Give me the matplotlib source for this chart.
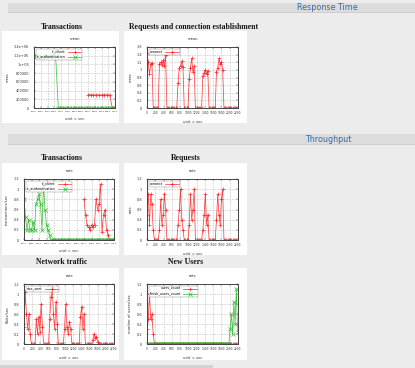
import numpy as np
import matplotlib.pyplot as plt
from matplotlib.patches import Rectangle

W, H = 415, 368

# --- Data (read off the thumbnails) ---
# response time, transactions (20 s samples)
t_rt = np.arange(1500, 2101, 20)
rt_auth = [1.19e6, 1.2e6, 1.19e6, 1.18e6, 1.2e6, 1.19e6, 1.2e6, 1.19e6, 1.2e6,
           0, 0, 0, 0, 0, 0, 0, 0, 0, 0, 0,
           0, 0, 0, 0, 0, 0, 0, 0, 0, 0, 0]
t_rt_client = np.arange(1900, 2101, 20)
rt_client = [3.0e5, 3.05e5, 2.98e5, 3.0e5, 3.02e5, 2.97e5, 3.0e5, 3.03e5, 2.99e5, 0, 0]

# throughput, transactions (10 s samples)
t_tr = np.arange(1500, 2101, 10)
tr_auth = [0.8, 0.45, 0.2, 0.4, 0.2, 0.2, 0.35, 0.2, 0.7, 0.8, 0.9, 0.7, 0.2, 1.1, 0.6, 0.3, 0.2, 0.1,
           0, 0, 0, 0, 0, 0, 0, 0, 0, 0, 0, 0, 0, 0, 0, 0, 0, 0, 0, 0, 0, 0, 0, 0,
           0, 0, 0, 0, 0, 0, 0, 0, 0, 0, 0, 0, 0, 0, 0, 0, 0, 0, 0]
t_tr_client = np.arange(1900, 2101, 10)
tr_client = [0.8, 0.5, 0.3, 0.25, 0.2, 0.3, 0.25, 0.3, 0.8, 0.6, 0.7, 1.1, 0.15, 0.5, 0.6, 0.2, 0.1,
             0, 0, 0, 0]

# whole-run series (30 s samples)
t_run = np.arange(0, 2200, 30)
connect_mean = [1.45, 1.2, 0.88, 1.15, 1.18,
                0, 0, 0, 0, 0,
                1.15, 1.2, 1.13, 1.25, 1.1, 1.38,
                0, 0, 0, 0, 0, 0, 0, 0, 0,
                0.65, 1.05, 1.1, 1.22, 1.08,
                0, 0, 0, 0,
                0.75, 1.05, 1.3, 0.95, 1.1,
                0, 0, 0, 0, 0, 0,
                0.85, 0.92, 1.0, 0.88, 0.98,
                0, 0, 0, 0, 0, 0,
                0.95, 1.05, 1.3, 1.15, 1.2, 1.0,
                0, 0, 0, 0, 0, 0, 0, 0, 0, 0, 0, 0]
connect_rate = [0.5, 0.9, 0.3, 0.9, 0.7, 0.2,
                0, 0, 0, 0,
                0.2, 0.8, 0.3, 0.5, 0.9, 0.6,
                0, 0, 0, 0, 0, 0, 0, 0, 0,
                0.3, 0.6, 1.0, 0.4, 0.2,
                0, 0, 0, 0,
                0.3, 0.9, 0.4, 0.6, 1.0,
                0, 0, 0, 0, 0, 0,
                0.2, 0.5, 0.9, 0.3, 0.5,
                0, 0, 0, 0, 0, 0,
                0.4, 0.9, 0.5, 0.3, 0.8, 1.0,
                0, 0, 0, 0, 0, 0, 0, 0, 0, 0, 0, 0]
size_sent = [0.35, 1.05, 0.6, 0.3, 0.6, 0.2,
             0, 0, 0, 0,
             0.5, 0.2, 0.55, 0.25, 0.8, 0.35,
             0, 0, 0, 0, 0,
             0.5, 0.95, 1.15, 0.6, 0.3, 0.85, 0.4,
             0, 0, 0, 0, 0,
             0.3, 0.8, 0.35, 0.2, 0.45, 0.3,
             0, 0, 0, 0, 0, 0, 0,
             0.55, 0.75, 0.3, 0.6,
             0, 0, 0, 0, 0, 0,
             0.08, 0.2, 0.12, 0.15, 0.05,
             0, 0, 0, 0, 0, 0, 0, 0, 0, 0, 0, 0, 0]
users_count = [0.3, 0.5, 1.0, 0.5, 0.6, 0.2,
               0, 0, 0, 0, 0, 0, 0, 0, 0, 0, 0, 0, 0, 0, 0, 0, 0, 0, 0, 0, 0, 0, 0, 0, 0, 0, 0, 0,
               0, 0, 0, 0, 0, 0, 0, 0, 0, 0, 0, 0, 0, 0, 0, 0, 0, 0, 0, 0, 0, 0, 0, 0, 0, 0, 0, 0,
               0, 0, 0, 0, 0, 0, 0, 0, 0, 0, 0, 0]
finish_users = [0, 0, 0, 0, 0, 0, 0, 0, 0, 0, 0, 0, 0, 0, 0, 0, 0, 0, 0, 0, 0, 0, 0, 0, 0, 0, 0,
                0, 0, 0, 0, 0, 0, 0, 0, 0, 0, 0, 0, 0, 0, 0, 0, 0, 0, 0, 0, 0, 0, 0, 0, 0, 0, 0,
                0, 0, 0, 0, 0, 0, 0, 0, 0, 0, 0, 0, 0,
                0.3, 0.6, 0.2, 0.85, 0.4, 1.1, 0.25]

run_ticks = [0, 200, 400, 600, 800, 1000, 1200, 1400, 1600, 1800, 2000, 2200]
tr_ticks = [1500, 1550, 1600, 1650, 1700, 1750, 1800, 1850, 1900, 1950, 2000, 2050, 2100]
rate_ticks = [0, 0.2, 0.4, 0.6, 0.8, 1, 1.2]
rate_labels = ["0", "0.2", "0.4", "0.6", "0.8", "1", "1.2"]
mean_ticks = [0, 0.2, 0.4, 0.6, 0.8, 1, 1.2, 1.4, 1.6]
mean_labels = ["0", "0.2", "0.4", "0.6", "0.8", "1", "1.2", "1.4", "1.6"]
msec_ticks = [0, 2e5, 4e5, 6e5, 8e5, 1e6, 1.2e6, 1.4e6]
msec_labels = ["0", "200000", "400000", "600000", "800000", "1e+06", "1.2e+06", "1.4e+06"]

RED = '#ff1010'
GREEN = '#10b810'

fig = plt.figure(figsize=(W / 100, H / 100), dpi=100)
fig.patch.set_facecolor('#ececec')


def box(x0, y0, x1, y1):
    # pixel box (top-left origin) -> figure fraction
    return [x0 / W, 1 - y1 / H, (x1 - x0) / W, (y1 - y0) / H]


def rect(x0, y0, x1, y1, color):
    fig.add_artist(Rectangle((x0 / W, 1 - y1 / H), (x1 - x0) / W, (y1 - y0) / H,
                             transform=fig.transFigure, facecolor=color, edgecolor='none', zorder=0))


def header(y0, y1, text, xc):
    rect(8, y0, 415, y1, '#dcdcdc')
    rect(8, y1 - 1, 415, y1, '#cdcdcd')
    fig.text(xc / W, 1 - (y0 + y1) / 2 / H, text, ha='center', va='center',
             color='#2b6cb3', fontsize=5.8, family='DejaVu Sans')


def title(xc, y, text):
    fig.text(xc / W, 1 - y / H, text, ha='center', va='center', color='#151515',
             fontsize=5.6, family='Liberation Serif', weight='bold')


def gplot(frame, name, ylabel, xlim, xticks, ylim, yticks, ylabels, series):
    ax = fig.add_axes(box(*frame))
    for t, v, label, color, marker in series:
        ax.plot(t, v, color=color, lw=0.55, alpha=0.8, marker=marker, ms=2.6, mew=0.55, label=label)
    ax.set_xlim(xlim)
    ax.set_ylim(ylim)
    ax.set_xticks(xticks)
    ax.set_xticklabels([str(x) for x in xticks])
    ax.set_yticks(yticks)
    ax.set_yticklabels(ylabels)
    ax.tick_params(direction='in', length=1.2, width=0.3, labelsize=2.5,
                   top=True, right=True, colors='#333333')
    # x labels are crowded, keep them small enough not to run together
    xsize = 1.75 if len(xticks) > 12 else 2.1
    ax.tick_params(axis='x', pad=2.5, labelsize=xsize)
    ax.tick_params(axis='y', pad=3.5)
    ax.grid(True, color='#9a9a9a', ls=':', lw=0.45)
    for s in ax.spines.values():
        s.set_linewidth(0.7)
        s.set_color('#444444')
    ax.set_title(name, fontsize=2.7, pad=5, color='#333333')
    ax.set_xlabel('unit = sec', fontsize=2.7, labelpad=3, color='#333333')
    ax.set_ylabel(ylabel, fontsize=2.7, labelpad=3, color='#333333')
    leg = ax.legend(loc='upper left', fontsize=2.4, markerfirst=False, handlelength=4,
                    frameon=True, fancybox=False, borderpad=0.3, labelspacing=0.3)
    leg.get_frame().set_linewidth(0.3)
    leg.get_frame().set_edgecolor('#666666')
    return ax


# page chrome
header(3, 13, 'Response Time', 327)
header(134, 145, 'Throughput', 328)
for y0, y1 in [(31, 123), (163, 255), (268, 360)]:
    rect(2, y0, 119, y1, 'white')
    rect(124, y0, 247, y1, 'white')
rect(0, 365, 213, 368, '#d2d2d2')

title(62, 27, 'Transactions')
title(194, 27, 'Requests and connection establishment')
title(62, 158, 'Transactions')
title(186, 158, 'Requests')
title(62, 262, 'Network traffic')
title(186, 262, 'New Users')

gplot((34, 47, 115, 108), 'mean', 'msec', (1500, 2100), tr_ticks, (0, 1.4e6), msec_ticks, msec_labels,
      [(t_rt_client, rt_client, 'tr_client', RED, '+'),
       (t_rt, rt_auth, 'tr_authentication', GREEN, 'x')])
gplot((147, 47, 238, 108), 'mean', 'msec', (0, 2200), run_ticks, (0, 1.6), mean_ticks, mean_labels,
      [(t_run, connect_mean, 'connect', RED, '+')])
gplot((24, 179, 114, 240), 'rate', 'transactions/sec', (1500, 2100), tr_ticks, (0, 1.2), rate_ticks, rate_labels,
      [(t_tr_client, tr_client, 'tr_client', RED, '+'),
       (t_tr, tr_auth, 'tr_authentication', GREEN, 'x')])
gplot((147, 179, 238, 240), 'rate', 'rate', (0, 2200), run_ticks, (0, 1.2), rate_ticks, rate_labels,
      [(t_run, connect_rate, 'connect', RED, '+')])
gplot((24, 284, 114, 344), 'rate', 'Kbits/sec', (0, 2200), run_ticks, (0, 1.2), rate_ticks, rate_labels,
      [(t_run, size_sent, 'size_sent', RED, '+')])
gplot((147, 284, 238, 344), 'rate', 'number of users/sec', (0, 2200), run_ticks, (0, 1.2), rate_ticks, rate_labels,
      [(t_run, users_count, 'users_count', RED, '+'),
       (t_run, finish_users, 'finish_users_count', GREEN, 'x')])

fig.savefig('out.png', dpi=100, facecolor=fig.get_facecolor())
